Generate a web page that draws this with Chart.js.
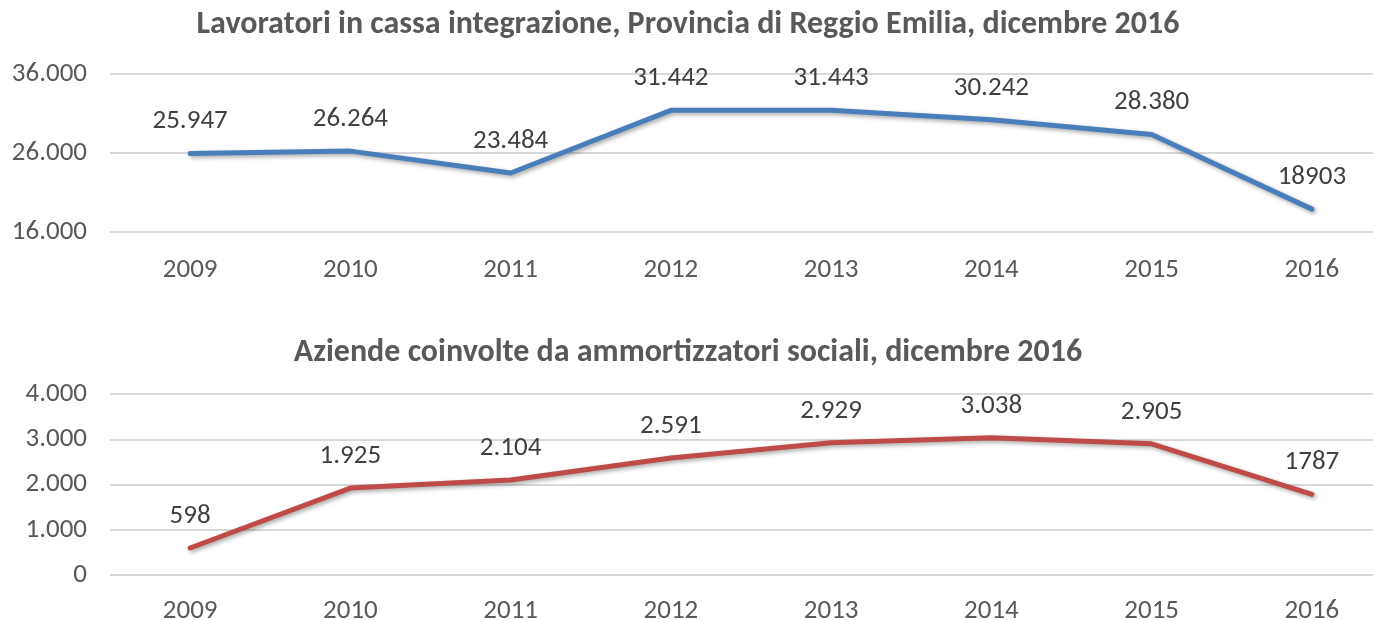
<!DOCTYPE html>
<html>
<head>
<meta charset="utf-8">
<script src="https://cdn.jsdelivr.net/npm/chart.js@4/dist/chart.umd.min.js"></script>
<style>
  html, body { margin: 0; padding: 0; background: #fff; overflow: hidden; }
  #wrap { position: relative; width: 1373px; height: 620px; overflow: hidden; }
  .box { position: absolute; left: 0; width: 1397px; }
  #topBox { top: 0; height: 300px; }
  #botBox { top: 320px; height: 300px; }
</style>
</head>
<body>
<div id="wrap">
  <div class="box" id="topBox"><canvas id="topChart"></canvas></div>
  <div class="box" id="botBox"><canvas id="botChart"></canvas></div>
</div>
<script>
'use strict';

// categories shared by both charts
const YEARS = ['2009', '2010', '2011', '2012', '2013', '2014', '2015', '2016'];

// Lavoratori in cassa integrazione
const WORKERS = [25947, 26264, 23484, 31442, 31443, 30242, 28380, 18903];
const WORKERS_LABELS = ['25.947', '26.264', '23.484', '31.442', '31.443', '30.242', '28.380', '18903'];
const WORKERS_TICKS = [16000, 26000, 36000];

// Aziende coinvolte da ammortizzatori sociali
const FIRMS = [598, 1925, 2104, 2591, 2929, 3038, 2905, 1787];
const FIRMS_LABELS = ['598', '1.925', '2.104', '2.591', '2.929', '3.038', '2.905', '1787'];
const FIRMS_TICKS = [0, 1000, 2000, 3000, 4000];

const COLORS = {
  blue:  '#4a7ebb',
  red:   '#be4b48',
  grid:  '#d9d9d9',
  tick:  '#595959',
  label: '#404040',
  title: '#595959',
};

const FONT = 'Carlito, "Liberation Sans", Arial, sans-serif';

/** Thousands separator with a dot, Italian style. */
function fmtDot(v) {
  return String(v).replace(/\B(?=(\d{3})+(?!\d))/g, '.');
}

/** Draws the value labels above each point and a soft shadow under the line. */
const labelsPlugin = {
  id: 'pointLabels',
  beforeDatasetsDraw(chart) {
    const ctx = chart.ctx;
    ctx.save();
    ctx.shadowColor = 'rgba(0,0,0,0.35)';
    ctx.shadowBlur = 4;
    ctx.shadowOffsetX = 2;
    ctx.shadowOffsetY = 2;
  },
  afterDatasetsDraw(chart, args, opts) {
    const ctx = chart.ctx;
    ctx.restore();
    const meta = chart.getDatasetMeta(0);
    ctx.save();
    ctx.font = `27px ${FONT}`;
    ctx.fillStyle = COLORS.label;
    ctx.textAlign = 'center';
    ctx.textBaseline = 'middle';
    meta.data.forEach((pt, i) => {
      ctx.fillText(opts.labels[i], pt.x, pt.y - opts.offset);
    });
    ctx.restore();
  },
};

function makeChart(canvasId, title, values, labels, ticks, color, layout) {
  const canvas = document.getElementById(canvasId);
  return new Chart(canvas, {
    type: 'line',
    data: {
      labels: YEARS,
      datasets: [{
        data: values,
        borderColor: color,
        borderWidth: 5,
        borderCapStyle: 'round',
        borderJoinStyle: 'round',
        pointRadius: 0,
        tension: 0,
      }],
    },
    options: {
      responsive: true,
      maintainAspectRatio: false,
      animation: false,
      // negative left padding pulls the centred title leftwards like the original
      layout: { padding: { left: -16, right: 5, top: 0, bottom: 0 } },
      plugins: {
        legend: { display: false },
        tooltip: { enabled: false },
        title: {
          display: true,
          text: title,
          color: COLORS.title,
          font: { family: FONT, size: 32, weight: 'bold' },
          padding: { top: layout.titleTop, bottom: layout.titleBottom },
        },
        pointLabels: { labels, offset: layout.labelOffset },
      },
      scales: {
        x: {
          offset: true,
          afterFit(scale) { scale.height = layout.xHeight; },
          grid: { display: false, drawTicks: false },
          border: { display: false },
          ticks: {
            color: COLORS.tick,
            font: { family: FONT, size: 27 },
            padding: layout.xPad,
          },
        },
        y: {
          min: ticks[0],
          max: ticks[ticks.length - 1],
          afterFit(scale) { scale.width = 126; },
          afterBuildTicks(scale) { scale.ticks = ticks.map((v) => ({ value: v })); },
          grid: { color: COLORS.grid, lineWidth: 2, drawTicks: false },
          border: { display: false },
          ticks: {
            color: COLORS.tick,
            font: { family: FONT, size: 27 },
            padding: 23,
            callback: (v) => fmtDot(v),
          },
        },
      },
    },
    plugins: [labelsPlugin],
  });
}

makeChart('topChart',
  'Lavoratori in cassa integrazione, Provincia di Reggio Emilia, dicembre 2016',
  WORKERS, WORKERS_LABELS, WORKERS_TICKS, COLORS.blue,
  { titleTop: 6, titleBottom: 30, xHeight: 68, xPad: 22, labelOffset: 32 });

makeChart('botChart',
  'Aziende coinvolte da ammortizzatori sociali, dicembre 2016',
  FIRMS, FIRMS_LABELS, FIRMS_TICKS, COLORS.red,
  { titleTop: 14, titleBottom: 22, xHeight: 45, xPad: 20, labelOffset: 32 });
</script>
</body>
</html>
